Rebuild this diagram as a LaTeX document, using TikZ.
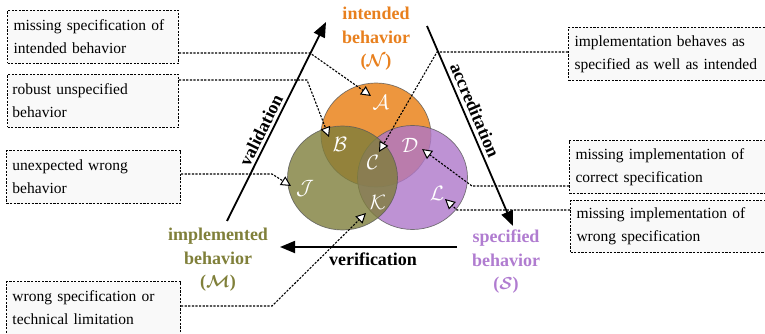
\documentclass[tikz,border=0pt]{standalone}
\usepackage{fontspec}
\setmainfont{Liberation Serif}
\usetikzlibrary{arrows.meta,shapes.geometric}
\definecolor{orgfill}{RGB}{232,124,14}
\definecolor{grnfill}{RGB}{126,126,59}
\definecolor{purfill}{RGB}{174,119,201}
\definecolor{orgtxt}{RGB}{232,128,30}
\definecolor{grntxt}{RGB}{128,128,58}
\definecolor{purtxt}{RGB}{176,124,208}
\definecolor{boxgray}{RGB}{249,249,249}
\begin{document}
\begin{tikzpicture}[x=1pt,y=-1pt,
  notebox/.style={draw=black, dash pattern=on 2.2pt off 1.4pt, line width=1pt,
    fill=boxgray, anchor=north west, align=left, inner xsep=6pt, inner ysep=0pt,
    minimum height=53pt, font=\fontsize{15.5}{23}\selectfont},
  conn/.style={draw=black, dash pattern=on 2.2pt off 1.4pt, line width=1.1pt,
    -{Triangle[length=10pt,width=10pt,fill=white,line width=1pt]}},
  big/.style={line width=1.8pt, -{Triangle[length=15pt,width=12pt]}},
  setnode/.style={ellipse, inner sep=0pt, minimum width=110pt, minimum height=104pt,
    draw=black!65, line width=0.7pt, fill opacity=0.8, draw opacity=0.8},
  reg/.style={text=white, font=\fontsize{20}{20}\selectfont, inner sep=0pt},
  ttl/.style={align=center, font=\fontsize{18}{23.5}\selectfont\bfseries, inner sep=0pt},
  arrlab/.style={font=\fontsize{18}{18}\selectfont\bfseries, inner sep=0pt}]
\useasboundingbox (0,0) rectangle (765,334);

% sets
\node[setnode, fill=orgfill] (N) at (376,135) {};
\node[setnode, fill=purfill] (S) at (412.5,177.5) {};
\node[setnode, fill=grnfill] (M) at (342.5,178) {};

% region letters
\node[reg] (A) at (381,102) {$\mathcal{A}$};
\node[reg] (B) at (340,144) {$\mathcal{B}$};
\node[reg] (C) at (373,162) {$\mathcal{C}$};
\node[reg] (D) at (410,145) {$\mathcal{D}$};
\node[reg] (J) at (305,188) {$\mathcal{J}$};
\node[reg] (K) at (378,202) {$\mathcal{K}$};
\node[reg] (L) at (437,193) {$\mathcal{L}$};

% set titles
\node[ttl, text=orgtxt] (tN) at (376,39) {intended\\behavior\\({\boldmath$\mathcal{N}$})};
\node[ttl, text=grntxt] (tM) at (218,260) {implemented\\behavior\\({\boldmath$\mathcal{M}$})};
\node[ttl, text=purtxt] (tS) at (506,262) {specified\\behavior\\({\boldmath$\mathcal{S}$})};

% big arrows
\coordinate (v0) at (227,221);
\coordinate (v1) at (326,22);
\coordinate (a0) at (427,26);
\coordinate (a1) at (513,226);
\coordinate (r0) at (457,247);
\coordinate (r1) at (280,247);
\draw[big] (v0) -- (v1);
\draw[big] (a0) -- (a1);
\draw[big] (r0) -- (r1);
\node[arrlab, rotate=63.6] (lv) at (261,130) {validation};
\node[arrlab, rotate=-66.8] (la) at (475,110) {accreditation};
\node[arrlab] (lr) at (373,259) {verification};

% note boxes
\node[notebox, text width=159pt] (b1) at (7,10) {missing specification of\\intended behavior};
\node[notebox, inner xsep=5pt, text width=161pt] (b2) at (7,74) {robust unspecified\\behavior};
\node[notebox, text width=162pt] (b3) at (6,150) {unexpected wrong\\behavior};
\node[notebox, text width=162pt] (b4) at (6,281) {wrong specification or\\technical limitation};
\node[notebox, text width=200pt] (b5) at (568,27) {implementation behaves as\\specified as well as intended};
\node[notebox, text width=200pt] (b6) at (569,140) {missing implementation of\\correct specification};
\node[notebox, text width=200pt, minimum height=52pt] (b7) at (570,200) {missing implementation of\\wrong specification};

% connectors
\coordinate (k1) at (310,53);  \coordinate (e1) at (371,96);
\coordinate (k2) at (307,80);  \coordinate (e2) at (329,137);
\coordinate (k3) at (272,174); \coordinate (e3) at (291,186);
\coordinate (k4) at (272,306); \coordinate (e4) at (366,213);
\coordinate (k5) at (437,52);  \coordinate (e5) at (379,152);
\coordinate (k6) at (472,186); \coordinate (e6) at (422,149);
\coordinate (k7) at (457,210); \coordinate (e7) at (445,199);
\draw[conn] (b1.east |- k1) -- (k1) -- (e1);
\draw[conn] (b2.east |- k2) -- (k2) -- (e2);
\draw[conn] (b3.east |- k3) -- (k3) -- (e3);
\draw[conn] (b4.east |- k4) -- (k4) -- (e4);
\draw[conn] (b5.west |- k5) -- (k5) -- (e5);
\draw[conn] (b6.west |- k6) -- (k6) -- (e6);
\draw[conn] (b7.west |- k7) -- (k7) -- (e7);
\end{tikzpicture}
\end{document}
